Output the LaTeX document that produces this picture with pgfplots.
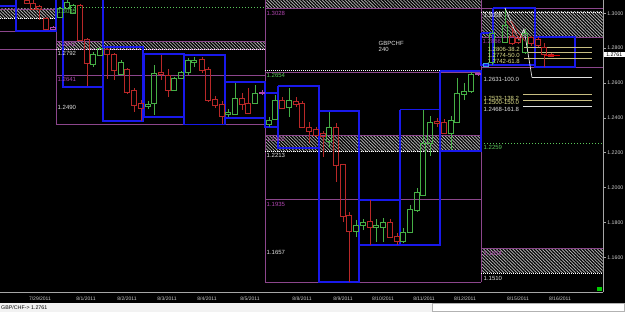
\documentclass[border=0pt]{standalone}
\usepackage{pgfplots}
\pgfplotsset{compat=1.18}
\usetikzlibrary{patterns.meta}
\usepackage{fontspec}
\setmainfont{Liberation Sans}
\definecolor{pu}{RGB}{140,70,140}
\definecolor{pul}{RGB}{175,70,175}
\definecolor{bl}{RGB}{25,25,235}
\definecolor{gc}{RGB}{70,175,70}
\definecolor{rc}{RGB}{185,40,40}
\definecolor{gl}{RGB}{90,200,90}
\definecolor{fib}{RGB}{200,190,130}
\definecolor{fibt}{RGB}{225,225,140}
\definecolor{wt}{RGB}{225,225,225}
\definecolor{hatch}{RGB}{175,175,175}
\definecolor{cy}{RGB}{60,160,220}
\definecolor{axt}{RGB}{205,205,205}
\newcommand{\fl}{\fontsize{6}{7}\selectfont}
\newcommand{\fd}{\fontsize{5}{6}\selectfont}
\newcommand{\fp}{\fontsize{5.2}{6}\selectfont}
% \candle{colour}{x}{low}{body low}{body high}{high}: wicks and hollow body
\newcommand{\candle}[6]{%
  \addplot[#1, line width=0.8pt] coordinates {(#2,#3)(#2,#4)};
  \addplot[#1, line width=0.8pt] coordinates {(#2,#5)(#2,#6)};
  \addplot[#1, line width=0.8pt, xshift=-2.2pt] coordinates {(#2,#4)(#2,#5)};
  \addplot[#1, line width=0.8pt, xshift=2.2pt] coordinates {(#2,#4)(#2,#5)};
  \addplot[#1, only marks, mark=-, mark size=2.6pt, mark options={line width=0.8pt}] coordinates {(#2,#4)(#2,#5)};}
\newcommand{\hatchband}[4]{\addplot[draw=none, pattern={Lines[angle=-45,distance=2.3pt,line width=0.8pt]}, pattern color=hatch]
  coordinates {(#1,#2)(#3,#2)(#3,#4)(#1,#4)} -- cycle;}
\begin{document}
\begin{tikzpicture}
\fill[black] (0pt,0pt) rectangle (625pt,312pt);
\fill[gray!10] (0pt,0pt) rectangle (625pt,9pt);
\begin{axis}[at={(0pt,20pt)}, anchor=south west, scale only axis,
  width=603pt, height=292pt,
  xmin=0, xmax=603, ymin=1.14017, ymax=1.30763,
  axis x line*=bottom, axis y line*=right,
  axis line style={-, gray!70, line width=0.9pt},
  xtick={40,86,127,167,207,250,302,343,383,424,465,518,560},
  xticklabels={7/29/2011,8/1/2011,8/2/2011,8/3/2011,8/4/2011,8/5/2011,8/8/2011,8/9/2011,8/10/2011,8/11/2011,8/12/2011,8/15/2011,8/16/2011},
  xtick style={draw=none},
  xticklabel style={font=\fd, text=axt, inner sep=1pt, yshift=-0.5pt},
  ytick={1.14,1.16,1.18,1.20,1.22,1.24,1.26,1.28,1.30},
  ytick style={gray!70, line width=0.6pt},
  tick align=outside, major tick length=3pt,
  yticklabel style={font=\fp, text=axt, inner sep=1.2pt, /pgf/number format/.cd, fixed, fixed zerofill, precision=4},
  /pgf/number format/assume math mode=true,
]
% hatched bands
\hatchband{0}{1.3025}{56}{1.2973}
\hatchband{56}{1.2841}{265}{1.2795}
\hatchband{265}{1.3076}{481}{1.3030}
\hatchband{265}{1.2302}{481}{1.2210}
\hatchband{481}{1.3008}{603}{1.2864}
\hatchband{481}{1.1654}{603}{1.1511}
% purple levels
\addplot[pu, line width=0.8pt] coordinates {(0,1.3025)(56,1.3025)};
\addplot[pu, line width=0.8pt] coordinates {(0,1.2899)(16,1.2899)};
\addplot[pu, line width=0.8pt] coordinates {(56,1.2841)(265,1.2841)};
\addplot[pu, line width=0.8pt] coordinates {(0,1.2795)(265,1.2795)};
\addplot[pu, line width=0.8pt] coordinates {(56,1.2641)(265,1.2641)};
\addplot[pu, line width=0.8pt] coordinates {(56,1.2360)(265,1.2360)};
\addplot[pu, line width=0.8pt] coordinates {(56,1.3076)(56,1.2360)};
\addplot[pu, line width=0.8pt] coordinates {(265,1.3076)(265,1.1459)};
\addplot[pu, line width=0.8pt] coordinates {(265,1.3030)(603,1.3030)};
\addplot[pu, line width=0.8pt] coordinates {(265,1.2663)(481,1.2663)};
\addplot[pu, line width=0.8pt] coordinates {(265,1.2302)(481,1.2302)};
\addplot[pu, line width=0.8pt] coordinates {(265,1.1935)(481,1.1935)};
\addplot[pu, line width=0.8pt] coordinates {(265,1.1459)(481,1.1459)};
\addplot[pu, line width=0.8pt] coordinates {(481,1.3076)(481,1.1459)};
\addplot[pu, line width=0.8pt] coordinates {(481,1.2864)(603,1.2864)};
\addplot[pu, line width=0.8pt] coordinates {(481,1.2692)(603,1.2692)};
\addplot[pu, line width=0.8pt] coordinates {(481,1.1654)(603,1.1654)};
% white dashed edges
\addplot[white, line width=0.8pt, dash pattern=on 1pt off 1pt] coordinates {(0,1.2973)(56,1.2973)};
\addplot[white, line width=0.8pt, dash pattern=on 1pt off 1pt] coordinates {(56,1.2795)(265,1.2795)};
\addplot[white, line width=0.8pt, dash pattern=on 1pt off 1pt] coordinates {(265,1.2210)(481,1.2210)};
\addplot[white, line width=0.8pt, dash pattern=on 1pt off 1pt] coordinates {(265,1.2675)(481,1.2675)};
\addplot[white, line width=0.8pt, dash pattern=on 1pt off 1pt] coordinates {(481,1.3008)(603,1.3008)};
\addplot[white, line width=0.8pt, dash pattern=on 1pt off 1pt] coordinates {(481,1.1511)(603,1.1511)};
% green dotted
\addplot[gl, line width=0.8pt, dash pattern=on 1pt off 2pt] coordinates {(56,1.3036)(265,1.3036)};
\addplot[gl, line width=0.8pt, dash pattern=on 1pt off 2pt] coordinates {(481,1.2256)(603,1.2256)};
% blue daily boxes
\addplot[bl, line width=1.2pt] coordinates {(0,1.3042)(16,1.3042)};
\addplot[bl, line width=1.2pt] coordinates {(16,1.3076)(16,1.2899)(56,1.2899)(56,1.3076)};
\addplot[bl, line width=1.2pt] coordinates {(63,1.3076)(63,1.2577)(103,1.2577)(103,1.3076)};
\addplot[bl, line width=1.2pt] coordinates {(103,1.2807)(143,1.2807)(143,1.2382)(103,1.2382)(103,1.2807)};
\addplot[bl, line width=1.2pt] coordinates {(144,1.2767)(184,1.2767)(184,1.2405)(144,1.2405)(144,1.2767)};
\addplot[bl, line width=1.2pt] coordinates {(184,1.2761)(225,1.2761)(225,1.2360)(184,1.2360)(184,1.2761)};
\addplot[bl, line width=1.2pt] coordinates {(225,1.2606)(265,1.2606)(265,1.2400)(225,1.2400)(225,1.2606)};
\addplot[bl, line width=1.2pt] coordinates {(265,1.2543)(278,1.2543)(278,1.2348)(265,1.2348)(265,1.2543)};
\addplot[bl, line width=1.2pt] coordinates {(278,1.2583)(319,1.2583)(319,1.2228)(278,1.2228)(278,1.2583)};
\addplot[bl, line width=1.2pt] coordinates {(319,1.2440)(359,1.2440)(359,1.1459)(319,1.1459)(319,1.2440)};
\addplot[bl, line width=1.2pt] coordinates {(359,1.1929)(400,1.1929)(400,1.1671)(359,1.1671)(359,1.1929)};
\addplot[bl, line width=1.2pt] coordinates {(400,1.2446)(440,1.2446)(440,1.1671)(400,1.1671)(400,1.2446)};
\addplot[bl, line width=1.2pt] coordinates {(440,1.2669)(481,1.2669)(481,1.2210)(440,1.2210)(440,1.2669)};
\addplot[bl, line width=1.2pt] coordinates {(481,1.2887)(493,1.2887)(493,1.2704)(481,1.2704)(481,1.2887)};
\addplot[bl, line width=1.2pt] coordinates {(493,1.3030)(535,1.3030)(535,1.2704)(493,1.2704)(493,1.3030)};
\addplot[bl, line width=1.2pt] coordinates {(535,1.2864)(575,1.2864)(575,1.2692)(535,1.2692)(535,1.2864)};
% fibonacci levels
\addplot[fib, line width=0.8pt] coordinates {(524,1.2806)(592,1.2806)};
\addplot[fib, line width=0.8pt] coordinates {(524,1.2774)(592,1.2774)};
\addplot[fib, line width=0.8pt] coordinates {(524,1.2742)(592,1.2742)};
\addplot[wt, line width=0.8pt] coordinates {(532,1.2631)(592,1.2631)};
\addplot[fib, line width=0.8pt] coordinates {(523,1.2533)(592,1.2533)};
\addplot[fib, line width=0.8pt] coordinates {(523,1.2500)(592,1.2500)};
\addplot[wt, line width=0.8pt] coordinates {(523,1.2468)(592,1.2468)};
% candles
\candle{rc}{27}{1.3054}{1.3059}{1.3076}{1.3076}
\candle{rc}{33}{1.3019}{1.3025}{1.3059}{1.3076}
\candle{rc}{39}{1.2962}{1.3025}{1.3042}{1.3048}
\candle{rc}{46}{1.2904}{1.2910}{1.2973}{1.2979}
\candle{pul}{53}{1.2904}{1.2910}{1.2922}{1.2925}
\candle{gc}{60}{1.2973}{1.2979}{1.3030}{1.3036}
\candle{gc}{67}{1.3025}{1.3030}{1.3065}{1.3076}
\candle{gc}{73}{1.2996}{1.3002}{1.3048}{1.3053}
\candle{rc}{80}{1.2847}{1.2847}{1.3048}{1.3053}
\candle{rc}{87}{1.2583}{1.2715}{1.2853}{1.2858}
\candle{gc}{93}{1.2692}{1.2709}{1.2767}{1.2778}
\candle{gc}{100}{1.2755}{1.2761}{1.2801}{1.2807}
\candle{rc}{107}{1.2623}{1.2767}{1.2795}{1.2801}
\candle{rc}{114}{1.2618}{1.2675}{1.2767}{1.2772}
\candle{gc}{121}{1.2646}{1.2652}{1.2721}{1.2732}
\candle{rc}{127}{1.2537}{1.2549}{1.2681}{1.2686}
\candle{rc}{134}{1.2434}{1.2474}{1.2560}{1.2572}
\candle{rc}{141}{1.2382}{1.2457}{1.2486}{1.2503}
\candle{gc}{148}{1.2451}{1.2468}{1.2480}{1.2497}
\candle{gc}{154}{1.2417}{1.2486}{1.2658}{1.2704}
\candle{rc}{161}{1.2618}{1.2652}{1.2663}{1.2761}
\candle{rc}{168}{1.2520}{1.2560}{1.2646}{1.2681}
\candle{gc}{174}{1.2555}{1.2560}{1.2629}{1.2635}
\candle{gc}{181}{1.2623}{1.2629}{1.2663}{1.2669}
\candle{gc}{188}{1.2646}{1.2663}{1.2732}{1.2744}
\candle{gc}{194}{1.2692}{1.2721}{1.2732}{1.2749}
\candle{rc}{202}{1.2658}{1.2675}{1.2738}{1.2749}
\candle{rc}{208}{1.2491}{1.2503}{1.2681}{1.2692}
\candle{rc}{215}{1.2457}{1.2474}{1.2509}{1.2526}
\candle{rc}{222}{1.2365}{1.2411}{1.2480}{1.2497}
\candle{gc}{228}{1.2405}{1.2423}{1.2434}{1.2451}
\candle{gc}{235}{1.2417}{1.2423}{1.2514}{1.2600}
\candle{rc}{242}{1.2446}{1.2480}{1.2514}{1.2543}
\candle{rc}{248}{1.2428}{1.2428}{1.2486}{1.2572}
\candle{gc}{255}{1.2480}{1.2486}{1.2543}{1.2589}
\candle{pul}{262}{1.2532}{1.2543}{1.2549}{1.2560}
\candle{gc}{269}{1.2348}{1.2360}{1.2388}{1.2405}
\candle{gc}{275}{1.2388}{1.2394}{1.2503}{1.2532}
\candle{rc}{282}{1.2451}{1.2457}{1.2503}{1.2520}
\candle{gc}{289}{1.2405}{1.2463}{1.2503}{1.2572}
\candle{rc}{296}{1.2463}{1.2480}{1.2497}{1.2520}
\candle{rc}{302}{1.2342}{1.2348}{1.2486}{1.2497}
\candle{rc}{309}{1.2256}{1.2325}{1.2348}{1.2377}
\candle{rc}{316}{1.2291}{1.2302}{1.2337}{1.2348}
\candle{rc}{323}{1.2176}{1.2296}{1.2314}{1.2325}
\candle{gc}{329}{1.2228}{1.2268}{1.2348}{1.2434}
\candle{rc}{336}{1.2033}{1.2130}{1.2348}{1.2371}
\candle{rc}{343}{1.1803}{1.1838}{1.2136}{1.2136}
\candle{rc}{349}{1.1459}{1.1752}{1.1843}{1.1861}
\candle{gc}{356}{1.1717}{1.1752}{1.1786}{1.1815}
\candle{gc}{363}{1.1757}{1.1786}{1.1803}{1.1820}
\candle{rc}{370}{1.1671}{1.1775}{1.1809}{1.1929}
\candle{gc}{376}{1.1689}{1.1775}{1.1786}{1.1820}
\candle{gc}{383}{1.1689}{1.1775}{1.1798}{1.1826}
\candle{rc}{390}{1.1711}{1.1717}{1.1798}{1.1820}
\candle{rc}{397}{1.1671}{1.1689}{1.1723}{1.1740}
\candle{gc}{403}{1.1683}{1.1689}{1.1746}{1.1769}
\candle{gc}{410}{1.1740}{1.1746}{1.1878}{1.1901}
\candle{gc}{417}{1.1861}{1.1872}{1.1970}{1.1998}
\candle{gc}{423}{1.1958}{1.1958}{1.2256}{1.2446}
\candle{gc}{430}{1.2182}{1.2256}{1.2377}{1.2411}
\candle{rc}{437}{1.2348}{1.2371}{1.2382}{1.2400}
\candle{rc}{444}{1.2308}{1.2314}{1.2377}{1.2394}
\candle{gc}{451}{1.2216}{1.2314}{1.2388}{1.2411}
\candle{gc}{457}{1.2377}{1.2377}{1.2543}{1.2629}
\candle{gc}{464}{1.2503}{1.2537}{1.2554}{1.2600}
\candle{gc}{471}{1.2543}{1.2554}{1.2652}{1.2663}
\candle{pul}{478}{1.2646}{1.2649}{1.2655}{1.2658}
\candle{cy}{486}{1.2698}{1.2698}{1.2715}{1.2715}
\candle{gc}{492}{1.2704}{1.2721}{1.2887}{1.2904}
\candle{gc}{505}{1.2835}{1.2835}{1.2933}{1.3030}
\candle{rc}{512}{1.2818}{1.2830}{1.2870}{1.2916}
\candle{rc}{518}{1.2824}{1.2835}{1.2858}{1.2870}
\candle{gc}{525}{1.2767}{1.2778}{1.2887}{1.2910}
\candle{rc}{531}{1.2813}{1.2830}{1.2864}{1.2870}
\candle{rc}{538}{1.2807}{1.2818}{1.2853}{1.2864}
\candle{rc}{544}{1.2692}{1.2767}{1.2807}{1.2830}
\candle{rc}{551}{1.2749}{1.2755}{1.2767}{1.2772}
% zigzag and current price line
\addplot[wt, line width=0.7pt] coordinates {(505,1.3030)(519,1.2847)(524,1.2910)(532,1.2632)};
\addplot[rc, line width=0.7pt] coordinates {(507,1.2955)(521,1.2840)};
\addplot[rc, line width=0.7pt] coordinates {(511,1.2955)(525,1.2840)};
\addplot[red!85!black, line width=0.8pt] coordinates {(545,1.2761)(560,1.2761)};
% level labels
\node[anchor=west, inner sep=0.5pt, font=\fl, text=gl] at (axis cs:57,1.3013) {1.3035};
\node[anchor=west, inner sep=0.5pt, font=\fl, text=pul] at (axis cs:57,1.2824) {1.2842};
\node[anchor=west, inner sep=0.5pt, font=\fl, text=wt] at (axis cs:57,1.2767) {1.2792};
\node[anchor=west, inner sep=0.5pt, font=\fl, text=pul] at (axis cs:57,1.2618) {1.2641};
\node[anchor=west, inner sep=0.5pt, font=\fl, text=wt] at (axis cs:57,1.2463) {1.2490};
\node[anchor=west, inner sep=0.5pt, font=\fl, text=pul] at (axis cs:266,1.3002) {1.3028};
\node[anchor=west, inner sep=0.5pt, font=\fl, text=gl] at (axis cs:266,1.2641) {1.2654};
\node[anchor=west, inner sep=0.5pt, font=\fl, text=pul] at (axis cs:266,1.2274) {1.2302};
\node[anchor=west, inner sep=0.5pt, font=\fl, text=wt] at (axis cs:266,1.2187) {1.2213};
\node[anchor=west, inner sep=0.5pt, font=\fl, text=pul] at (axis cs:266,1.1906) {1.1935};
\node[anchor=west, inner sep=0.5pt, font=\fl, text=wt] at (axis cs:266,1.1631) {1.1657};
\node[anchor=west, inner sep=0.5pt, font=\fl, text=wt] at (axis cs:378,1.2830) {GBPCHF};
\node[anchor=west, inner sep=0.5pt, font=\fl, text=wt] at (axis cs:378,1.2790) {240};
\node[anchor=west, inner sep=0.5pt, font=\fl, text=wt] at (axis cs:483,1.2985) {1.3008};
\node[anchor=west, inner sep=0.5pt, font=\fl, text=pul] at (axis cs:482,1.2841) {1.2866};
\node[anchor=west, inner sep=0.5pt, font=\fl, text=fibt] at (axis cs:487,1.2795) {1.2806-38.2};
\node[anchor=west, inner sep=0.5pt, font=\fl, text=fibt] at (axis cs:487,1.2761) {1.2774-50.0};
\node[anchor=west, inner sep=0.5pt, font=\fl, text=fibt] at (axis cs:487,1.2726) {1.2742-61.8};
\node[anchor=west, inner sep=0.5pt, font=\fl, text=wt] at (axis cs:483,1.2618) {1.2631-100.0};
\node[anchor=west, inner sep=0.5pt, font=\fl, text=fibt] at (axis cs:483,1.2514) {1.2533-138.2};
\node[anchor=west, inner sep=0.5pt, font=\fl, text=fibt] at (axis cs:483,1.2486) {1.2500-150.0};
\node[anchor=west, inner sep=0.5pt, font=\fl, text=wt] at (axis cs:483,1.2451) {1.2468-161.8};
\node[anchor=west, inner sep=0.5pt, font=\fl, text=gl] at (axis cs:483,1.2233) {1.2259};
\node[anchor=west, inner sep=0.5pt, font=\fl, text=pul] at (axis cs:483,1.1625) {1.1654};
\node[anchor=west, inner sep=0.5pt, font=\fl, text=wt] at (axis cs:483,1.1482) {1.1510};
\end{axis}
% price marker and status bar
\node[fill=white, text=black, inner sep=0.7pt, anchor=west, minimum width=21pt, font=\fp] at (603.5pt,257.5pt) {1.2761};
\fill[green!80!black] (597pt,20.5pt) rectangle (602pt,25pt);
\draw[gray!60, fill=white] (432pt,0.4pt) rectangle (624.6pt,8.4pt);
\node[anchor=west, inner sep=0pt, font=\fontsize{5.3}{6}\selectfont, text=black] at (1pt,4.6pt) {GBP/CHF-> 1.2761};
\pgfresetboundingbox
\path (0pt,0pt) rectangle (625pt,312pt);
\end{tikzpicture}
\end{document}
